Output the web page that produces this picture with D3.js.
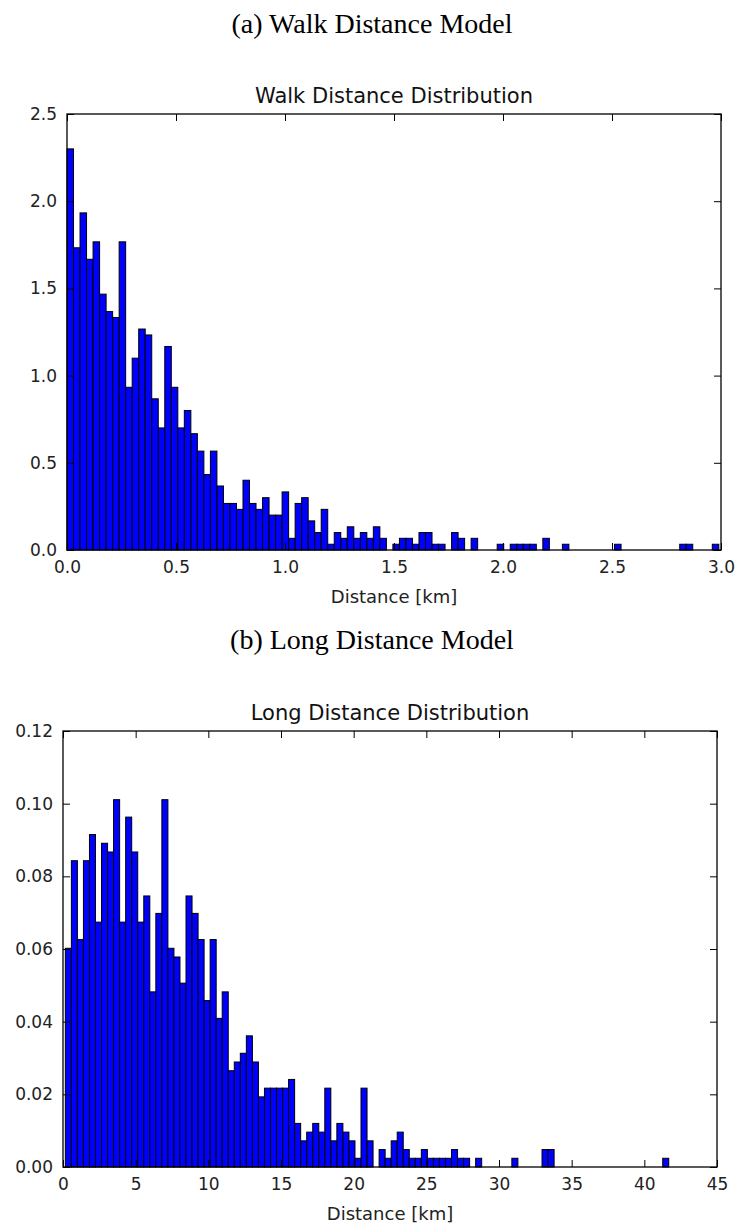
<!DOCTYPE html>
<html>
<head>
<meta charset="utf-8">
<script src="https://cdn.jsdelivr.net/npm/d3@7"></script>
<style>
  body { margin: 0; background: #fff; }
  svg { display: block; }
</style>
</head>
<body>
<div id="container"></div>
<script>
let w = 736;
let h = 1226;

// walk distance histogram: 100 bins, density per bin
let walkBinStart = 0;
let walkBinWidth = 0.0299;
let walkDensity = [
  2.300, 1.733, 1.933, 1.667, 1.767, 1.467, 1.367, 1.333, 1.767, 0.933,
  1.100, 1.267, 1.233, 0.867, 0.700, 1.167, 0.933, 0.700, 0.800, 0.667,
  0.567, 0.433, 0.567, 0.367, 0.267, 0.267, 0.233, 0.400, 0.267, 0.233,
  0.300, 0.200, 0.200, 0.333, 0.067, 0.267, 0.300, 0.167, 0.100, 0.233,
  0.033, 0.100, 0.067, 0.133, 0.067, 0.100, 0.067, 0.133, 0.067, 0,
  0.033, 0.067, 0.067, 0.033, 0.100, 0.100, 0.033, 0.033, 0, 0.100,
  0.067, 0, 0.067, 0, 0, 0, 0.033, 0, 0.033, 0.033,
  0.033, 0.033, 0, 0.067, 0, 0, 0.033, 0, 0, 0,
  0, 0, 0, 0, 0.033, 0, 0, 0, 0, 0,
  0, 0, 0, 0, 0.033, 0.033, 0, 0, 0, 0.033
];
let walkXTicks = [0, 0.5, 1, 1.5, 2, 2.5, 3];
let walkYTicks = [0, 0.5, 1, 1.5, 2, 2.5];

// long distance histogram: 100 bins, density per bin
let longBinStart = 0.16;
let longBinWidth = 0.4152;
let longDensity = [
  0.0602, 0.0843, 0.0626, 0.0843, 0.0915, 0.0674, 0.0891, 0.0867, 0.1011, 0.0674,
  0.0963, 0.0867, 0.0674, 0.0746, 0.0482, 0.0698, 0.1011, 0.0602, 0.0578, 0.0506,
  0.0746, 0.0698, 0.0626, 0.0458, 0.0626, 0.0409, 0.0482, 0.0265, 0.0289, 0.0313,
  0.0361, 0.0289, 0.0193, 0.0217, 0.0217, 0.0217, 0.0217, 0.0241, 0.0120, 0.0072,
  0.0096, 0.0120, 0.0096, 0.0217, 0.0072, 0.0120, 0.0096, 0.0072, 0.0024, 0.0217,
  0.0072, 0, 0.0048, 0.0024, 0.0072, 0.0096, 0.0048, 0.0024, 0.0024, 0.0048,
  0.0024, 0.0024, 0.0024, 0.0024, 0.0048, 0.0024, 0.0024, 0, 0.0024, 0,
  0, 0, 0, 0, 0.0024, 0, 0, 0, 0, 0.0048,
  0.0048, 0, 0, 0, 0, 0, 0, 0, 0, 0,
  0, 0, 0, 0, 0, 0, 0, 0, 0, 0.0024
];
let longXTicks = [0, 5, 10, 15, 20, 25, 30, 35, 40, 45];
let longYTicks = [0, 0.02, 0.04, 0.06, 0.08, 0.10, 0.12];

let svg = d3.select("#container")
  .append("svg")
  .attr("width", w)
  .attr("height", h)
  .style("background-color", "white");

let sans = "DejaVu Sans, sans-serif";
let serif = "Liberation Serif, Times New Roman, serif";

drawHist({
  heading: "(a) Walk Distance Model", headingY: 33,
  title: "Walk Distance Distribution",
  left: 67, right: 721, top: 114, bottom: 550,
  xDomain: [0, 3], yDomain: [0, 2.5],
  xTicks: walkXTicks, yTicks: walkYTicks,
  xFormat: d3.format(".1f"), yFormat: d3.format(".1f"),
  binStart: walkBinStart, binWidth: walkBinWidth, values: walkDensity
});

drawHist({
  heading: "(b) Long Distance Model", headingY: 649,
  title: "Long Distance Distribution",
  left: 63, right: 717, top: 731, bottom: 1167,
  xDomain: [0, 45], yDomain: [0, 0.12],
  xTicks: longXTicks, yTicks: longYTicks,
  xFormat: d3.format("d"), yFormat: d3.format(".2f"),
  binStart: longBinStart, binWidth: longBinWidth, values: longDensity
});

function drawHist(o) {
  let x = d3.scaleLinear().domain(o.xDomain).range([o.left, o.right]);
  let y = d3.scaleLinear().domain(o.yDomain).range([o.bottom, o.top]);
  let g = svg.append("g");

  g.append("text")
    .text(o.heading)
    .attr("x", 372)
    .attr("y", o.headingY)
    .attr("text-anchor", "middle")
    .attr("font-family", serif)
    .attr("font-size", "28px")
    .attr("fill", "#000");

  g.append("text")
    .text(o.title)
    .attr("x", (o.left + o.right) / 2)
    .attr("y", o.top - 11)
    .attr("text-anchor", "middle")
    .attr("font-family", sans)
    .attr("font-size", "21px")
    .attr("fill", "#111");

  // keep the bin index with each value so empty bins don't shift the bars
  let bins = o.values
    .map((v, i) => ({ x0: o.binStart + i * o.binWidth, v: v }))
    .filter(d => d.v > 0);

  g.selectAll(".bar")
    .data(bins)
    .enter()
    .append("rect")
    .attr("class", "bar")
    .attr("x", d => x(d.x0))
    .attr("y", d => y(d.v))
    .attr("width", x(o.binWidth) - x(0))
    .attr("height", d => y(0) - y(d.v))
    .attr("fill", "#0000ff")
    .attr("stroke", "#000")
    .attr("stroke-width", 1);

  let tick = 7;
  let xb = g.append("g")
    .attr("transform", `translate(0, ${o.bottom})`)
    .call(d3.axisBottom(x).tickValues(o.xTicks).tickFormat(o.xFormat)
      .tickSizeInner(-tick).tickSizeOuter(0).tickPadding(11));
  let xt = g.append("g")
    .attr("transform", `translate(0, ${o.top})`)
    .call(d3.axisTop(x).tickValues(o.xTicks).tickFormat("")
      .tickSizeInner(-tick).tickSizeOuter(0));
  let yl = g.append("g")
    .attr("transform", `translate(${o.left}, 0)`)
    .call(d3.axisLeft(y).tickValues(o.yTicks).tickFormat(o.yFormat)
      .tickSizeInner(-tick).tickSizeOuter(0).tickPadding(10));
  let yr = g.append("g")
    .attr("transform", `translate(${o.right}, 0)`)
    .call(d3.axisRight(y).tickValues(o.yTicks).tickFormat("")
      .tickSizeInner(-tick).tickSizeOuter(0));

  [xb, xt, yl, yr].forEach(a => {
    a.select(".domain").remove();
    a.selectAll("line").attr("stroke", "#000").attr("stroke-width", 1);
    a.selectAll("text")
      .attr("font-family", sans)
      .attr("font-size", "17px")
      .attr("fill", "#222");
  });

  g.append("rect")
    .attr("x", o.left)
    .attr("y", o.top)
    .attr("width", o.right - o.left)
    .attr("height", o.bottom - o.top)
    .attr("fill", "none")
    .attr("stroke", "#000")
    .attr("stroke-width", 1.3);

  g.append("text")
    .text("Distance [km]")
    .attr("x", (o.left + o.right) / 2)
    .attr("y", o.bottom + 53)
    .attr("text-anchor", "middle")
    .attr("font-family", sans)
    .attr("font-size", "18px")
    .attr("fill", "#222");
}
</script>
</body>
</html>
